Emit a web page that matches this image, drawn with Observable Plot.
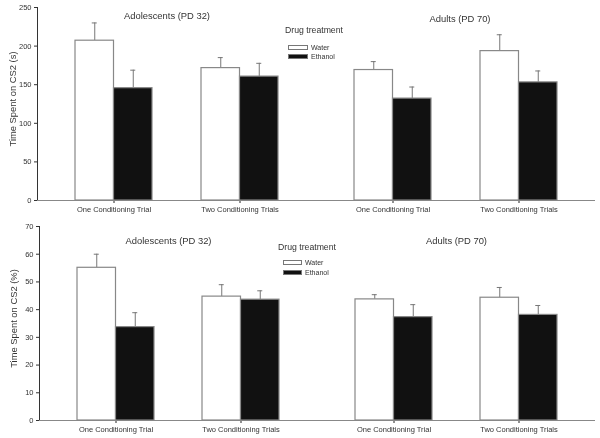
<!DOCTYPE html>
<html><head><meta charset="utf-8">
<script src="https://cdn.jsdelivr.net/npm/d3@7"></script>
<script src="https://cdn.jsdelivr.net/npm/@observablehq/plot@0.6"></script>
<style>
body{margin:0;background:#fff;font-family:"Liberation Sans",Arial,sans-serif;}
#wrap{position:relative;width:600px;height:438px;overflow:hidden;}
.panel{position:relative;width:600px;}
.panel svg{display:block;will-change:transform;}
.panel svg text{fill:#333;}
.lg{position:absolute;color:#333;font-family:"Liberation Sans",Arial,sans-serif;will-change:transform;}
.lg .t{position:absolute;white-space:nowrap;font-size:8.7px;line-height:1;}
.lg .box{position:absolute;box-sizing:border-box;border:1px solid #777;}
.lg .lab{position:absolute;white-space:nowrap;font-size:7px;line-height:1;}
</style></head><body><div id="wrap"></div>
<script>
const ages = ["Adolescents (PD 32)", "Adults (PD 70)"];
const trials = ["One Conditioning Trial", "Two Conditioning Trials"];
const drugs = ["Water", "Ethanol"];
// order: age × trial × drug
const secMean = [207, 145.5, 171.5, 160.5, 169, 132, 193.5, 153];
const secErr  = [23, 23.3, 13.6, 17.2, 10.9, 15, 21.2, 14.8];
const pctMean = [55.1, 33.7, 44.7, 43.6, 43.7, 37.3, 44.3, 38.1];
const pctErr  = [4.9, 5.2, 4.3, 3.2, 1.7, 4.5, 3.7, 3.4];
const secTicks = [0, 50, 100, 150, 200, 250];
const pctTicks = [0, 10, 20, 30, 40, 50, 60, 70];
const secLabel = "Time Spent on CS2 (s)";
const pctLabel = "Time Spent on CS2 (%)";

function rowsOf(mean, err) {
  const rows = []; let i = 0;
  for (const age of ages) for (const trial of trials) for (const drug of drugs) {
    rows.push({age, trial, drug, mean: mean[i], err: err[i]}); i++;
  }
  return rows;
}

function build(cfg, half) {
  const rows = rowsOf(cfg.mean, cfg.err);
  const water = rows.filter(d => d.drug === "Water");
  const eth = rows.filter(d => d.drug === "Ethanol");
  const capIn = Math.max(0, half - 2.5);
  const top = d => d.mean + d.err;
  return Plot.plot({
    width: 600, height: cfg.height,
    marginTop: cfg.marginTop, marginBottom: cfg.marginBottom,
    marginLeft: cfg.marginLeft, marginRight: 5,
    style: {fontSize: "7.5px", color: "#333", fontFamily: "Liberation Sans, Arial, sans-serif", background: "white"},
    fx: {domain: ages, padding: 0, axis: null},
    x: {domain: trials, paddingInner: 0.386, paddingOuter: 0.3, tickSize: 3, tickPadding: 3, label: null},
    y: {domain: cfg.domain, ticks: cfg.ticks, tickSize: 3, tickPadding: 3, label: null, line: true},
    marks: [
      Plot.ruleY([0], {stroke: "#888"}),
      Plot.ruleX(trials, {x: d => d, y1: 0, y2: 0, insetTop: 0, insetBottom: -3, stroke: "#888"}),
      Plot.ruleX(water, {fx: "age", x: "trial", y1: "mean", y2: top, dx: -half / 2, stroke: "#777"}),
      Plot.ruleX(eth, {fx: "age", x: "trial", y1: "mean", y2: top, dx: half / 2, stroke: "#777"}),
      Plot.tickY(water, {fx: "age", x: "trial", y: top, dx: -half / 2, insetLeft: capIn, insetRight: capIn, stroke: "#777"}),
      Plot.tickY(eth, {fx: "age", x: "trial", y: top, dx: half / 2, insetLeft: capIn, insetRight: capIn, stroke: "#777"}),
      Plot.barY(water, {fx: "age", x: "trial", y: "mean", insetRight: half, fill: "white", stroke: "#888", strokeWidth: 1.2}),
      Plot.barY(eth, {fx: "age", x: "trial", y: "mean", insetLeft: half, fill: "#111", stroke: "#888", strokeWidth: 1.2}),
      Plot.text([ages[0]], {fx: d => d, text: d => d, frameAnchor: "top", lineAnchor: "middle", dx: cfg.t1dx, dy: cfg.t1dy, fontSize: 9.4, fill: "#333"}),
      Plot.text([ages[1]], {fx: d => d, text: d => d, frameAnchor: "top", lineAnchor: "middle", dx: cfg.t2dx, dy: cfg.t2dy, fontSize: 9.4, fill: "#333"}),
      Plot.text([cfg.label], {fx: () => ages[0], text: d => d, frameAnchor: "left", textAnchor: "middle", lineAnchor: "middle", rotate: -90, dx: -cfg.labelOff, dy: -5, fontSize: 9.4, fill: "#333"})
    ]
  });
}

function panel(cfg) {
  const probe = build(cfg, 0);
  const bw = probe.scale("x").bandwidth;
  const chart = build(cfg, bw / 2);
  const div = document.createElement("div");
  div.className = "panel";
  div.appendChild(chart);
  const lg = document.createElement("div");
  lg.className = "lg";
  lg.style.left = cfg.lg.x + "px"; lg.style.top = cfg.lg.y + "px";
  lg.innerHTML =
    `<div class="t" style="left:0;top:0">Drug treatment</div>` +
    drugs.map((d, i) =>
      `<div class="box" style="left:${cfg.lg.bx}px;top:${cfg.lg.by + i * cfg.lg.step}px;width:${cfg.lg.bw}px;height:5px;background:${i ? "#111" : "#fff"}"></div>` +
      `<div class="lab" style="left:${cfg.lg.tx}px;top:${cfg.lg.by + i * cfg.lg.step - 1.5}px">${d}</div>`).join("");
  div.appendChild(lg);
  return div;
}

const wrap = document.getElementById("wrap");
wrap.appendChild(panel({
  mean: secMean, err: secErr, domain: [0, 250], ticks: secTicks, label: secLabel,
  height: 218, marginTop: 7, marginBottom: 18, marginLeft: 36, labelOff: 25,
  t1dx: -10, t1dy: 8, t2dx: 4, t2dy: 11,
  lg: {x: 285, y: 26, bx: 3, by: 19, bw: 20, step: 9, tx: 26}
}));
wrap.appendChild(panel({
  mean: pctMean, err: pctErr, domain: [0, 70], ticks: pctTicks, label: pctLabel,
  height: 220, marginTop: 8, marginBottom: 18, marginLeft: 39, labelOff: 26,
  t1dx: -10, t1dy: 14, t2dx: 0, t2dy: 14,
  lg: {x: 278, y: 25, bx: 5, by: 17, bw: 19, step: 10, tx: 27}
}));
</script></body></html>
